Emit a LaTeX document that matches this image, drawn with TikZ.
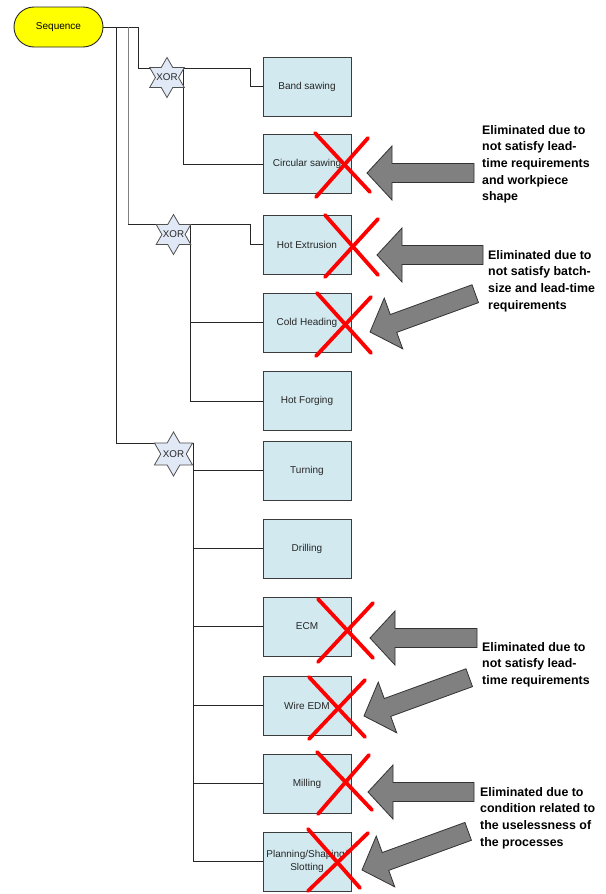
\documentclass[tikz,border=0pt]{standalone}
\usepackage{fontspec}
\setmainfont{Liberation Sans}
\usetikzlibrary{shapes.geometric,backgrounds}
\definecolor{boxfill}{RGB}{210,233,239}
\definecolor{boxline}{RGB}{60,60,60}
\definecolor{starfill}{RGB}{226,233,246}
\definecolor{starline}{RGB}{80,80,80}
\definecolor{arrowgray}{RGB}{128,128,128}
\definecolor{seqfill}{RGB}{255,255,0}
\newcommand{\fatarrow}[3]{%
  \path[fat, shift={(#1)}, rotate=#2] (0,0) -- (25,-27) -- (25,-9.5) -- (#3,-9.5) -- (#3,9.5) -- (25,9.5) -- (25,27) -- cycle;}
\begin{document}
\begin{tikzpicture}[x=1pt,y=-1pt,
  proc/.style={draw=boxline, fill=boxfill, line width=0.9pt, minimum width=88pt, minimum height=59pt, inner sep=0pt, align=center, font=\fontsize{10}{12.3}\selectfont, text=black!85},
  xorstar/.style={star, star points=6, star point ratio=1.73, draw=starline, fill=starfill, line width=0.8pt, inner sep=0pt},
  xorlab/.style={inner sep=0pt, font=\fontsize{9.8}{11}\selectfont, text=black!85},
  conn/.style={draw=black!85, line width=0.9pt},
  cross/.style={draw=red, line width=3.8pt, line cap=round},
  fat/.style={draw=black!80, fill=arrowgray, line width=0.8pt, line join=miter},
  note/.style={anchor=north west, inner sep=0pt, align=left, font=\fontsize{12.4}{16.7}\selectfont\bfseries}
]
\useasboundingbox (0,0) rectangle (605,894);

% start node
\node[draw=black!85, fill=seqfill, line width=0.9pt, rounded corners=20pt, minimum width=89pt, minimum height=40pt, inner sep=0pt, font=\fontsize{10}{12}\selectfont] (seq) at (58.5,27) {Sequence};

% XOR stars
\node[xorstar, minimum size=40pt] (x1) at (167,77.5) {};
\node[xorlab] (x1t) at (x1) {XOR};
\node[xorstar, minimum size=40pt] (x2) at (173.5,234.5) {};
\node[xorlab] (x2t) at (x2) {XOR};
\node[xorstar, minimum size=44pt] (x3) at (173.5,454) {};
\node[xorlab] (x3t) at (x3) {XOR};

% process boxes
\node[proc] (band)  at (307,86.5)  {Band sawing};
\node[proc] (circ)  at (307,164)   {Circular sawing};
\node[proc] (hext)  at (307,244.5) {Hot Extrusion};
\node[proc] (cold)  at (307,322.5) {Cold Heading};
\node[proc] (forg)  at (307,401)   {Hot Forging};
\node[proc] (turn)  at (307,470.5) {Turning};
\node[proc] (drill) at (307,548.5) {Drilling};
\node[proc] (ecm)   at (307,626.5) {ECM};
\node[proc] (wedm)  at (307,705.5) {Wire EDM};
\node[proc] (mill)  at (307,783.5) {Milling};
\node[proc] (plan)  at (307,861.5) {Planning/Shaping/\\Slotting};

% connectors
\begin{scope}[on background layer]
  \coordinate (j1) at (138,68);
  \coordinate (j1r) at (183,68);
  \coordinate (j1b) at (250,68);
  \coordinate (j2t) at (128,27);
  \coordinate (j2) at (128,224);
  \coordinate (j2r) at (190,224);
  \coordinate (j2b) at (250,224);
  \coordinate (j3) at (116,443);
  \coordinate (j3r) at (193,443);
  \draw[conn] (seq.east) -| (j1) -- (j1b) |- (band.west);
  \draw[conn] (j1r) |- (circ.west);
  \draw[conn] (seq.east) -- (j2t);
  \draw[conn, draw=black!50] (j2t) -- (j2);
  \draw[conn] (j2) -- (j2b) |- (hext.west);
  \draw[conn] (j2r) |- (cold.west);
  \draw[conn] (j2r) |- (forg.west);
  \draw[conn] (seq.east) -| (j3) -- (j3r);
  \foreach \b in {turn,drill,ecm,wedm,mill,plan}
    \draw[conn] (j3r) |- (\b.west);
\end{scope}

% red crosses
\draw[cross] (315,133) -- (370,192); \draw[cross] (368,138) -- (316,197);
\draw[cross] (325,215) -- (378,275); \draw[cross] (378,219) -- (325,277);
\draw[cross] (317,293) -- (371,353); \draw[cross] (371,297) -- (316,356);
\draw[cross] (318,599) -- (373,658); \draw[cross] (373,603) -- (318,662);
\draw[cross] (309,677) -- (365,737); \draw[cross] (365,680) -- (309,739);
\draw[cross] (317,752) -- (372,810); \draw[cross] (369,755) -- (318,814);
\draw[cross] (308,829) -- (360,888); \draw[cross] (368,833) -- (308,891);

% big arrows
\fatarrow{367,173}{0}{107}
\fatarrow{377,255}{0}{106}
\fatarrow{370,332}{20}{112}
\fatarrow{370,638}{0}{107}
\fatarrow{364,716}{20}{112}
\fatarrow{368,792}{0}{106}
\fatarrow{362,870}{20}{113}

% notes
\node[note] (n1) at (482,125) {Eliminated due to\\not satisfy lead-\\time requirements\\and workpiece\\shape};
\node[note] (n2) at (488,250) {Eliminated due to\\not satisfy batch-\\size and lead-time\\requirements};
\node[note] (n3) at (482,642) {Eliminated due to\\not satisfy lead-\\time requirements};
\node[note] (n4) at (480,787) {Eliminated due to\\condition related to\\the uselessness of\\the processes};
\end{tikzpicture}
\end{document}
